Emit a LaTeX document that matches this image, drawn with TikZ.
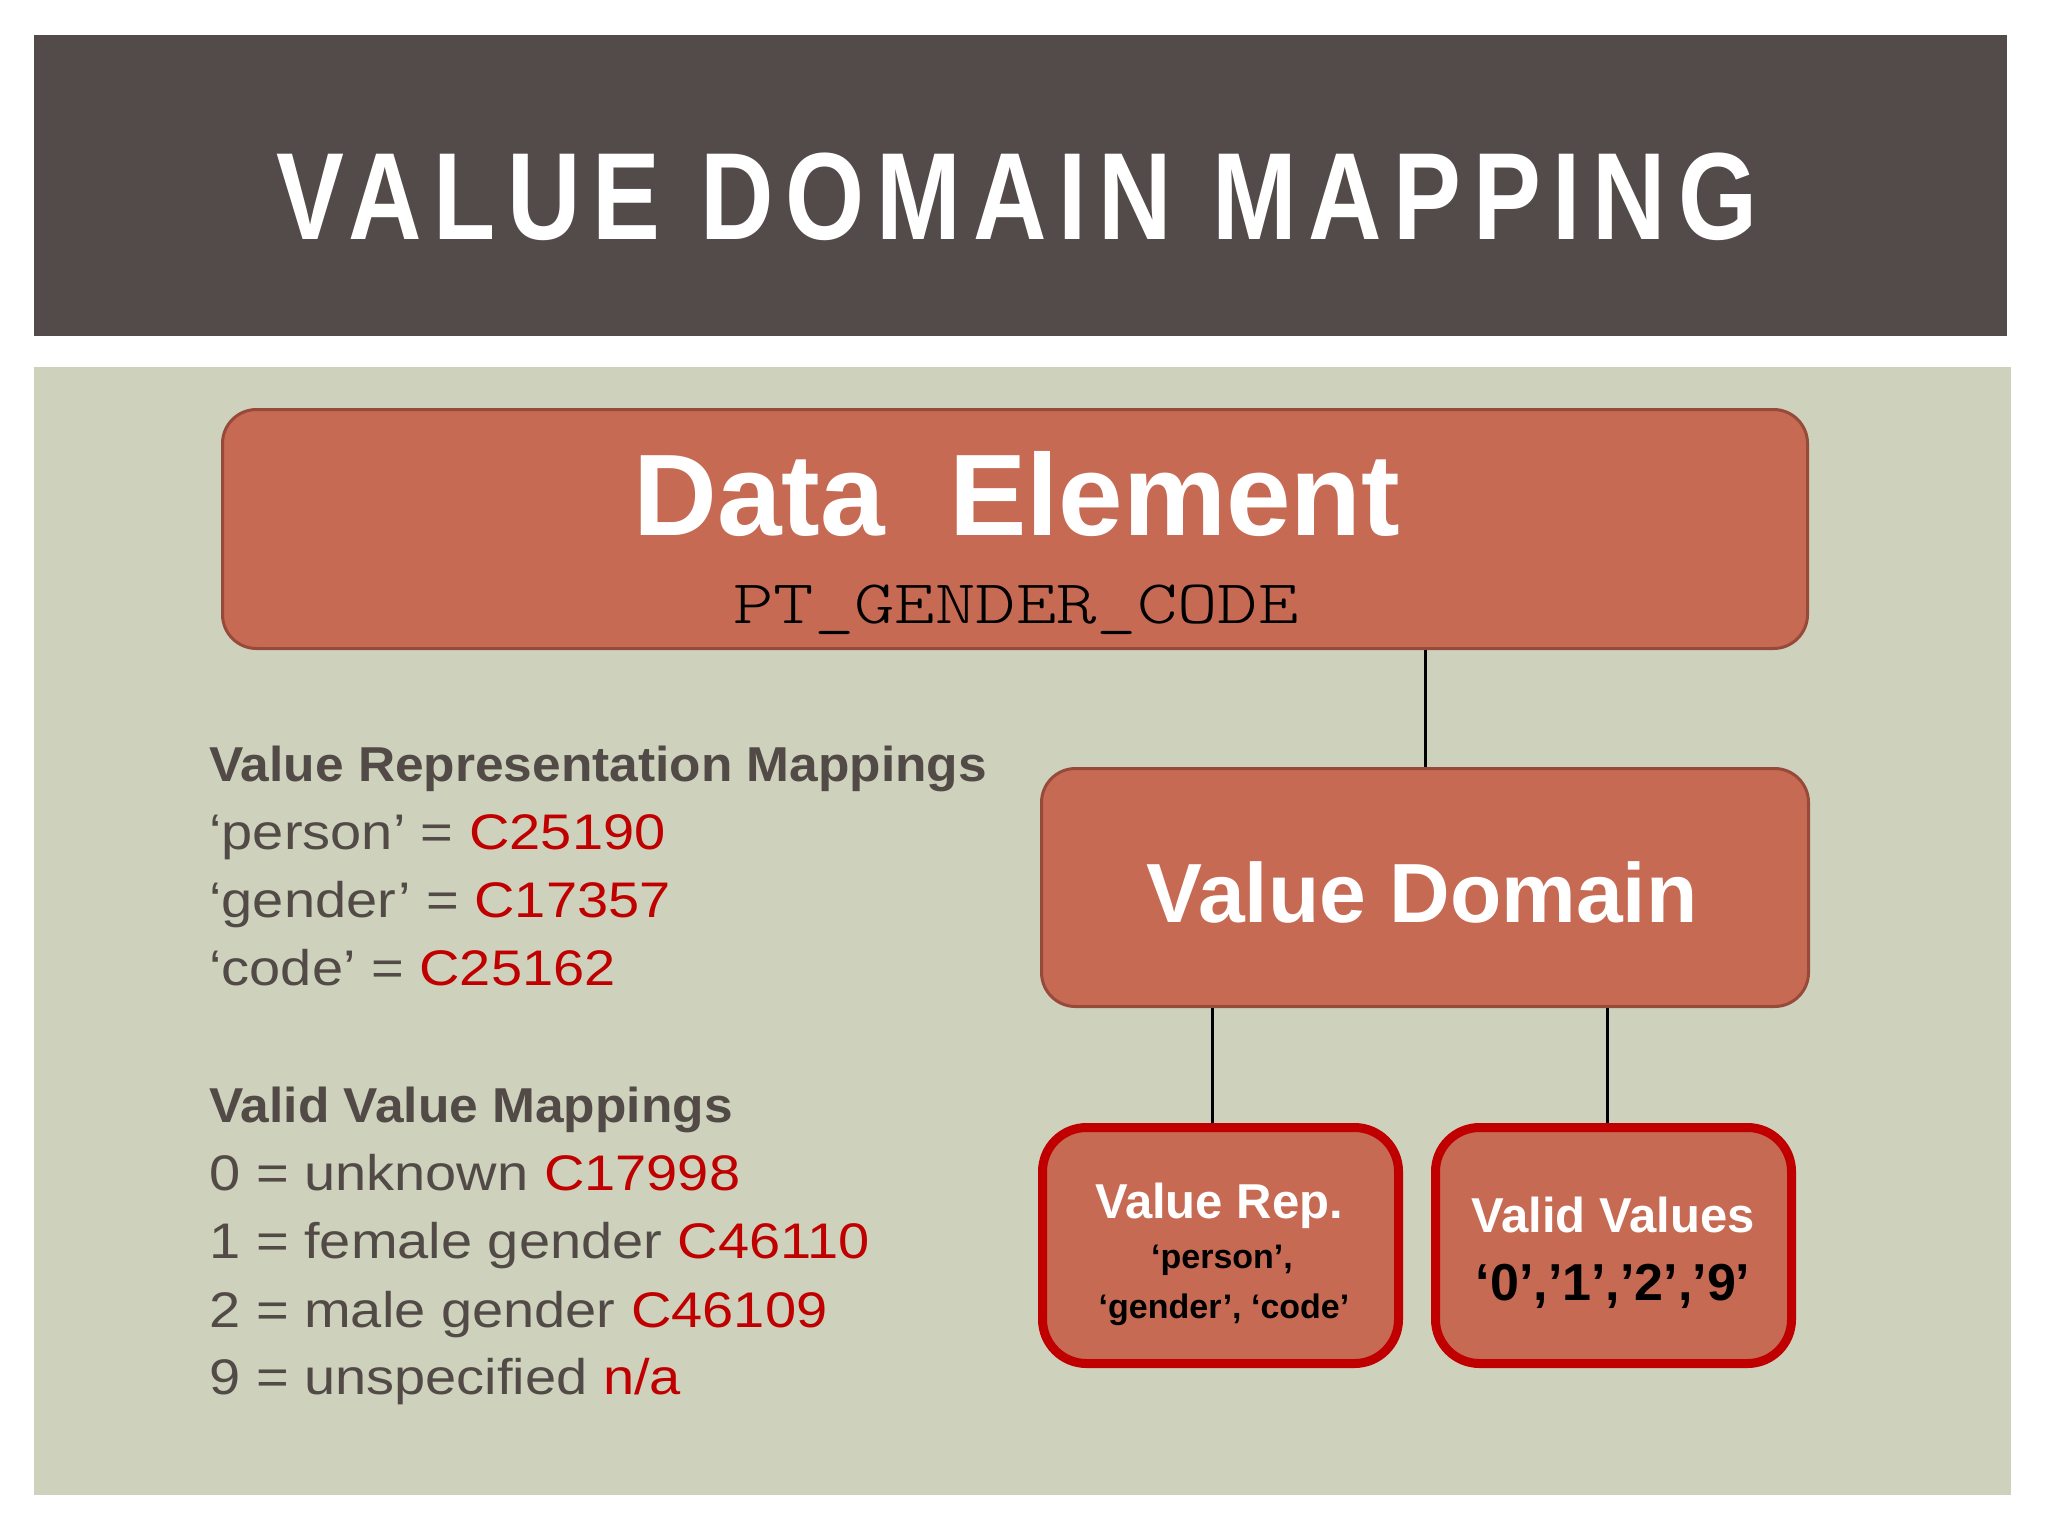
\documentclass[tikz,border=0pt]{standalone}
\usepackage{fontspec}
\setmainfont{Liberation Sans}
\newfontfamily\titlefont[FakeStretch=0.82,LetterSpace=9.5]{Liberation Sans}
\newfontfamily\headfont[FakeStretch=1.05]{Liberation Sans}
\newfontfamily\bodyfont[FakeStretch=1.12]{Liberation Sans}
\newfontfamily\codefont[FakeStretch=1.24]{lmmonolt10-regular.otf}
\definecolor{barcol}{HTML}{534A4A}
\definecolor{bgcol}{HTML}{CED1BB}
\definecolor{boxfill}{HTML}{C66A53}
\definecolor{boxline}{HTML}{984A3A}
\definecolor{redline}{HTML}{C00000}
\definecolor{graytext}{HTML}{524A47}
\definecolor{redtext}{HTML}{C00000}
\begin{document}
\begin{tikzpicture}[x=0.5pt,y=-0.5pt,
  box/.style={draw=boxline, line width=1.5pt, fill=boxfill, rounded corners=17pt, inner sep=0pt},
  leaf/.style={draw=redline, line width=4.5pt, fill=boxfill, rounded corners=22pt, inner sep=0pt},
  link/.style={draw=black, line width=1.5pt},
  txt/.style={inner sep=0pt, anchor=base},
  ltxt/.style={inner sep=0pt, anchor=base west, text=graytext},
  head/.style={ltxt, font=\headfont\bfseries\fontsize{24.5}{28}\selectfont},
  body/.style={ltxt, font=\bodyfont\fontsize{25}{28}\selectfont},
]
\useasboundingbox (0,0) rectangle (2048,1536);
\fill[white] (0,0) rectangle (2048,1536);
\fill[barcol] (34,35) rectangle (2007,336);
\fill[bgcol] (34,367) rectangle (2011,1495);

\node[txt, text=white, font=\titlefont\bfseries\fontsize{62}{70}\selectfont] (title) at (1017,239) {VALUE DOMAIN MAPPING};

% boxes
\node[box, minimum width=792.5pt, minimum height=119.5pt] (de) at (1015,529) {};
\node[box, minimum width=383.5pt, minimum height=119pt] (vd) at (1425,887.5) {};
\node[leaf, minimum width=178pt, minimum height=118pt] (vr) at (1220.5,1245.5) {};
\node[leaf, minimum width=178pt, minimum height=118pt] (vv) at (1613.5,1245.5) {};

% connectors
\coordinate (vrtop) at ([xshift=-4pt]vr.north);
\coordinate (vvtop) at ([xshift=-3pt]vv.north);
\draw[link] (vd.north) -- (vd.north |- de.south);
\draw[link] (vrtop) -- (vrtop |- vd.south);
\draw[link] (vvtop) -- (vvtop |- vd.south);

% box texts
\node[txt, text=white, font=\bfseries\fontsize{58}{62}\selectfont] (detitle) at (1017,535) {Data\ \ Element};
\node[txt, text=black, font=\codefont\fontsize{31}{36}\selectfont] (decode) at (1016,623) {PT\_GENDER\_CODE};
\node[txt, text=white, font=\bfseries\fontsize{42}{46}\selectfont] (vdtitle) at (1422,922) {Value Domain};
\node[txt, text=white, font=\bfseries\fontsize{24.5}{28}\selectfont] (vrtitle) at (1219,1218) {Value Rep.};
\node[txt, text=black, font=\bfseries\fontsize{17}{20}\selectfont] (vrsub1) at (1222,1268) {‘person’,};
\node[txt, text=black, font=\bfseries\fontsize{17}{20}\selectfont] (vrsub2) at (1224,1318) {‘gender’, ‘code’};
\node[txt, text=white, font=\bfseries\fontsize{24.5}{28}\selectfont] (vvtitle) at (1613,1232) {Valid Values};
\node[txt, text=black, font=\bfseries\fontsize{26}{28}\selectfont] (vvsub) at (1613,1300) {‘0’,’1’,’2’,’9’};

% left text
\node[head] (h1) at (209,781) {Value Representation Mappings};
\node[body] (l1) at (209,849) {‘person’ = \textcolor{redtext}{C25190}};
\node[body] (l2) at (209,917) {‘gender’ = \textcolor{redtext}{C17357}};
\node[body] (l3) at (209,985) {‘code’ = \textcolor{redtext}{C25162}};
\node[head] (h2) at (209,1122) {Valid Value Mappings};
\node[body] (m1) at (209,1190) {0 = unknown \textcolor{redtext}{C17998}};
\node[body] (m2) at (209,1258) {1 = female gender \textcolor{redtext}{C46110}};
\node[body] (m3) at (209,1327) {2 = male gender \textcolor{redtext}{C46109}};
\node[body] (m4) at (209,1394) {9 = unspecified \textcolor{redtext}{n/a}};
\end{tikzpicture}
\end{document}
